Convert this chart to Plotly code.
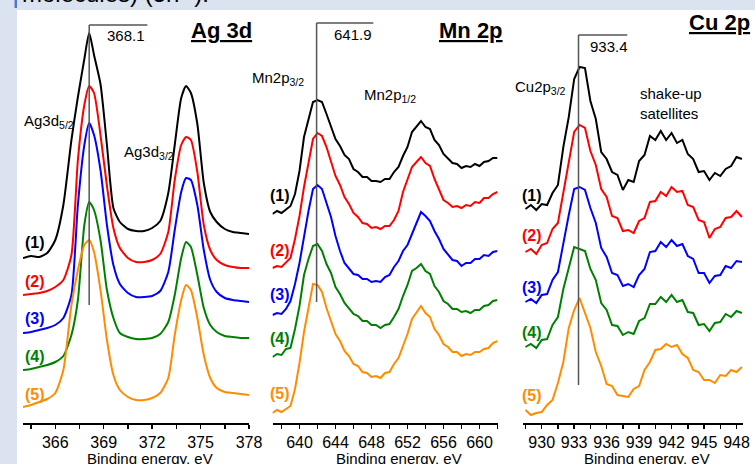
import plotly.graph_objects as go

# ---------------- data ----------------
ag_energy = [364, 364.5, 365, 365.5, 366, 366.5, 367, 367.4, 367.8, 368.1, 368.4, 368.8, 369.2, 369.6,
             370, 370.5, 371, 371.5, 372, 372.5, 373, 373.4, 373.8, 374.1, 374.4, 374.8, 375.2, 375.6,
             376, 376.5, 377, 377.5, 378]
ag_1 = [165, 167, 166, 170, 183, 218, 283, 326, 364, 390, 368, 339, 278, 215, 201, 194, 192, 192, 195, 202,
        230, 278, 325, 337, 330, 299, 240, 211, 201, 194, 191, 190, 189]
ag_2 = [128, 129, 130, 132, 136, 143, 168, 263, 318, 337, 330, 288, 237, 195, 175, 165, 161, 161, 163, 169,
        191, 243, 278, 286, 283, 251, 198, 173, 163, 158, 156, 155, 155]
ag_3 = [90, 91, 93, 95, 98, 105, 128, 218, 278, 300, 288, 253, 198, 158, 139, 130, 126, 126, 127, 132,
        151, 193, 231, 245, 243, 218, 173, 143, 131, 125, 123, 122, 121]
ag_4 = [53, 54, 56, 58, 61, 67, 88, 123, 198, 221, 213, 183, 133, 105, 90, 86, 84, 84, 85, 89,
        101, 128, 165, 181, 176, 148, 115, 98, 91, 87, 86, 85, 85]
ag_5 = [16, 18, 21, 24, 30, 53, 118, 153, 178, 183, 171, 133, 83, 48, 33, 26, 23, 23, 25, 30,
        45, 88, 123, 138, 133, 105, 68, 45, 35, 31, 30, 29, 28]

mn_energy = [637 + 0.5 * i for i in range(51)]
mn_1 = [209, 212, 210, 214, 217, 229, 252, 286, 304, 321, 323, 321, 309, 297, 284, 277, 268, 264, 254, 251,
        246, 246, 242, 242, 241, 244, 244, 251, 256, 267, 276, 291, 297, 302, 296, 294, 283, 278, 269, 265,
        260, 259, 255, 257, 256, 259, 257, 261, 262, 265, 265]
mn_2 = [155, 157, 156, 161, 165, 184, 207, 236, 260, 284, 290, 287, 276, 261, 247, 238, 226, 219, 210, 206,
        200, 199, 195, 196, 194, 197, 197, 203, 212, 231, 244, 256, 261, 266, 260, 257, 244, 234, 223, 220,
        216, 217, 215, 218, 217, 221, 220, 225, 225, 229, 231]
mn_3 = [108, 110, 109, 114, 122, 139, 160, 187, 212, 234, 238, 234, 219, 206, 187, 172, 160, 155, 149, 148,
        144, 144, 141, 142, 141, 146, 148, 156, 162, 172, 178, 189, 200, 211, 207, 202, 192, 184, 174, 169,
        163, 162, 157, 160, 160, 164, 164, 168, 167, 171, 172]
mn_4 = [66, 69, 68, 74, 75, 94, 117, 148, 164, 177, 179, 172, 159, 150, 136, 129, 120, 115, 109, 107,
        102, 102, 98, 98, 95, 98, 99, 106, 114, 127, 138, 152, 155, 159, 152, 149, 137, 131, 122, 119,
        114, 114, 111, 112, 110, 113, 113, 117, 118, 122, 123]
mn_5 = [10, 13, 11, 14, 17, 34, 60, 91, 117, 139, 138, 131, 115, 103, 89, 82, 72, 67, 59, 57,
        51, 50, 46, 47, 45, 50, 51, 59, 65, 77, 89, 104, 111, 117, 110, 106, 94, 88, 79, 76,
        71, 71, 67, 69, 68, 71, 71, 74, 75, 80, 82]

cu_energy = [928.5 + 0.5 * i for i in range(41)]
cu_1 = [214, 218, 213, 219, 218, 230, 238, 276, 306, 344, 356, 355, 322, 304, 271, 264, 251, 248, 233, 243,
        241, 262, 268, 287, 283, 292, 283, 290, 280, 283, 269, 264, 251, 252, 243, 250, 247, 254, 257, 266, 264]
cu_2 = [171, 174, 169, 178, 180, 194, 200, 231, 262, 291, 298, 295, 272, 258, 234, 226, 207, 205, 192, 193,
        190, 202, 205, 221, 222, 231, 227, 236, 231, 232, 218, 216, 203, 201, 185, 194, 196, 205, 206, 212, 206]
cu_3 = [121, 124, 120, 128, 129, 143, 151, 181, 208, 234, 236, 233, 215, 200, 175, 166, 150, 148, 137, 139,
        136, 148, 154, 171, 172, 181, 176, 183, 177, 179, 167, 164, 150, 150, 140, 147, 148, 157, 155, 162, 161]
cu_4 = [76, 79, 75, 83, 84, 98, 106, 134, 155, 176, 174, 172, 154, 143, 120, 113, 98, 97, 88, 91,
        89, 102, 105, 119, 119, 126, 121, 128, 121, 123, 111, 110, 98, 99, 92, 100, 101, 109, 106, 112, 110]
cu_5 = [13, 8, 10, 11, 18, 23, 40, 61, 95, 113, 125, 111, 95, 71, 57, 39, 37, 28, 27, 26,
        34, 37, 53, 61, 73, 74, 79, 76, 78, 69, 65, 53, 51, 43, 43, 40, 48, 47, 53, 51, 56]

sample_labels = ["(1)", "(2)", "(3)", "(4)", "(5)"]
peak_positions = [368.1, 641.9, 933.4]
peak_texts = ["368.1", "641.9", "933.4"]
panel_titles = ["Ag 3d", "Mn 2p", "Cu 2p"]

ag_major = [366, 369, 372, 375, 378]
ag_minor = [364.5, 367.5, 370.5, 373.5, 376.5]
mn_major = [640, 644, 648, 652, 656, 660]
mn_minor = [638, 642, 646, 650, 654, 658, 662]
cu_major = [930, 933, 936, 939, 942, 945, 948]
cu_minor = [928.5, 931.5, 934.5, 937.5, 940.5, 943.5, 946.5]

# ---------------- style / layout ----------------
W, H = 755, 464
FONT = "Liberation Sans, Arial, sans-serif"
colors = ["#000000", "#ff0000", "#0000ff", "#008000", "#ff8c00"]
BG = "#dbe3f1"


def px(x):
    return x / W


def py(y):
    return 1 - y / H


panels = [
    dict(E=ag_energy, S=[ag_1, ag_2, ag_3, ag_4, ag_5], shape="spline",
         dom=(23, 249), rng=(364, 378), major=ag_major, minor=ag_minor,
         lab_x=23, lab_y=[243, 281, 318, 356, 394],
         ref_top=398, ref_bot=118, brk_end=371.7),
    dict(E=mn_energy, S=[mn_1, mn_2, mn_3, mn_4, mn_5], shape="linear",
         dom=(272.5, 497.5), rng=(637, 662), major=mn_major, minor=mn_minor,
         lab_x=268, lab_y=[195, 250, 294, 338, 393],
         ref_top=400, ref_bot=121, brk_end=648.2),
    dict(E=cu_energy, S=[cu_1, cu_2, cu_3, cu_4, cu_5], shape="linear",
         dom=(523.3, 743), rng=(928.3, 948.6), major=cu_major, minor=cu_minor,
         lab_x=520, lab_y=[195, 235, 287, 332, 395],
         ref_top=388, ref_bot=38, brk_end=937.9),
]

fig = go.Figure()
shapes = [
    dict(type="rect", xref="paper", yref="paper", x0=px(17), x1=1, y0=0, y1=py(10),
         fillcolor="white", line=dict(width=0), layer="below"),
    dict(type="rect", xref="paper", yref="paper", x0=px(14.5), x1=px(17), y0=py(8), y1=1,
         fillcolor="#4f7ac7", line=dict(width=0), layer="below"),
]
annotations = []
layout_axes = {}

for i, p in enumerate(panels):
    sfx = "" if i == 0 else str(i + 1)
    xa, ya = "x" + sfx, "y" + sfx
    for k, s in enumerate(p["S"]):
        fig.add_trace(go.Scatter(x=p["E"], y=s, mode="lines", xaxis=xa, yaxis=ya,
                                 line=dict(color=colors[k], width=2, shape=p["shape"], smoothing=0.6),
                                 showlegend=False, hoverinfo="skip"))
        annotations.append(dict(text="<b>%s</b>" % sample_labels[k], x=px(p["lab_x"]), y=py(p["lab_y"][k]),
                                xref="paper", yref="paper", xanchor="left", yanchor="middle",
                                showarrow=False, font=dict(size=16, color=colors[k], family=FONT)))
    layout_axes["xaxis" + sfx] = dict(
        domain=[px(p["dom"][0]), px(p["dom"][1])], range=list(p["rng"]), anchor=ya,
        showline=True, linecolor="black", linewidth=1.5, showgrid=False, zeroline=False,
        ticks="outside", ticklen=4, tickwidth=1.5, tickcolor="black", automargin=False,
        tickvals=p["major"], ticktext=[str(v) for v in p["major"]],
        tickfont=dict(size=16, color="black", family=FONT),
        minor=dict(tickvals=p["minor"], ticks="outside", ticklen=4, tickwidth=1.5, tickcolor="black"),
    )
    layout_axes["yaxis" + sfx] = dict(domain=[41 / H, 1], range=[0, 423], visible=False, anchor=xa,
                                      automargin=False)
    # reference line with bracket
    e0 = peak_positions[i]
    shapes.append(dict(type="line", xref=xa, yref=ya, x0=e0, x1=e0, y0=p["ref_bot"], y1=p["ref_top"],
                       line=dict(color="#555555", width=1.5)))
    shapes.append(dict(type="line", xref=xa, yref=ya, x0=e0, x1=p["brk_end"], y0=p["ref_top"], y1=p["ref_top"],
                       line=dict(color="#555555", width=1.5)))
    # axis title
    mid = (p["dom"][0] + p["dom"][1]) / 2 + 13.5
    annotations.append(dict(text="Binding energy, eV", x=px(mid), y=py(458), xref="paper", yref="paper",
                            xanchor="center", yanchor="middle", showarrow=False,
                            font=dict(size=15, color="black", family=FONT)))

# peak value labels
for txt, (cx, cy) in zip(peak_texts, [(126, 35), (353, 34), (609, 47)]):
    annotations.append(dict(text=txt, x=px(cx), y=py(cy), xref="paper", yref="paper",
                            xanchor="center", yanchor="middle", showarrow=False,
                            font=dict(size=15, color="black", family=FONT)))
# panel titles
for txt, (cx, cy) in zip(panel_titles, [(221, 31), (471, 31), (719, 22)]):
    annotations.append(dict(text="<b><u>%s</u></b>" % txt, x=px(cx), y=py(cy), xref="paper", yref="paper",
                            xanchor="center", yanchor="middle", showarrow=False,
                            font=dict(size=22, color="black", family=FONT)))
# peak names
peak_names = [
    ("Ag3d<sub>5/2</sub>", 22, 121),
    ("Ag3d<sub>3/2</sub>", 122, 153),
    ("Mn2p<sub>3/2</sub>", 250, 79),
    ("Mn2p<sub>1/2</sub>", 362, 96),
    ("Cu2p<sub>3/2</sub>", 513, 87),
    ("shake-up<br>satellites", 638, 103),
]
for txt, lx, cy in peak_names:
    annotations.append(dict(text=txt, x=px(lx), y=py(cy), xref="paper", yref="paper",
                            xanchor="left", yanchor="middle", align="left", showarrow=False,
                            font=dict(size=15, color="black", family=FONT)))
# slide text cut at top
annotations.append(dict(text="molecules) (5h<sup>-5</sup>).", x=px(20), y=py(9), xref="paper", yref="paper",
                        xanchor="left", yanchor="bottom", showarrow=False,
                        font=dict(size=24, color="black", family=FONT)))

fig.update_layout(width=W, height=H, margin=dict(l=0, r=0, t=0, b=0, autoexpand=False),
                  paper_bgcolor=BG, plot_bgcolor="rgba(0,0,0,0)",
                  shapes=shapes, annotations=annotations, **layout_axes)
fig.write_html("out.html", config={"displayModeBar": False, "staticPlot": True},
               post_script="document.body.style.margin='0';document.body.style.padding='0';"
                           "document.body.style.overflow='hidden';")
